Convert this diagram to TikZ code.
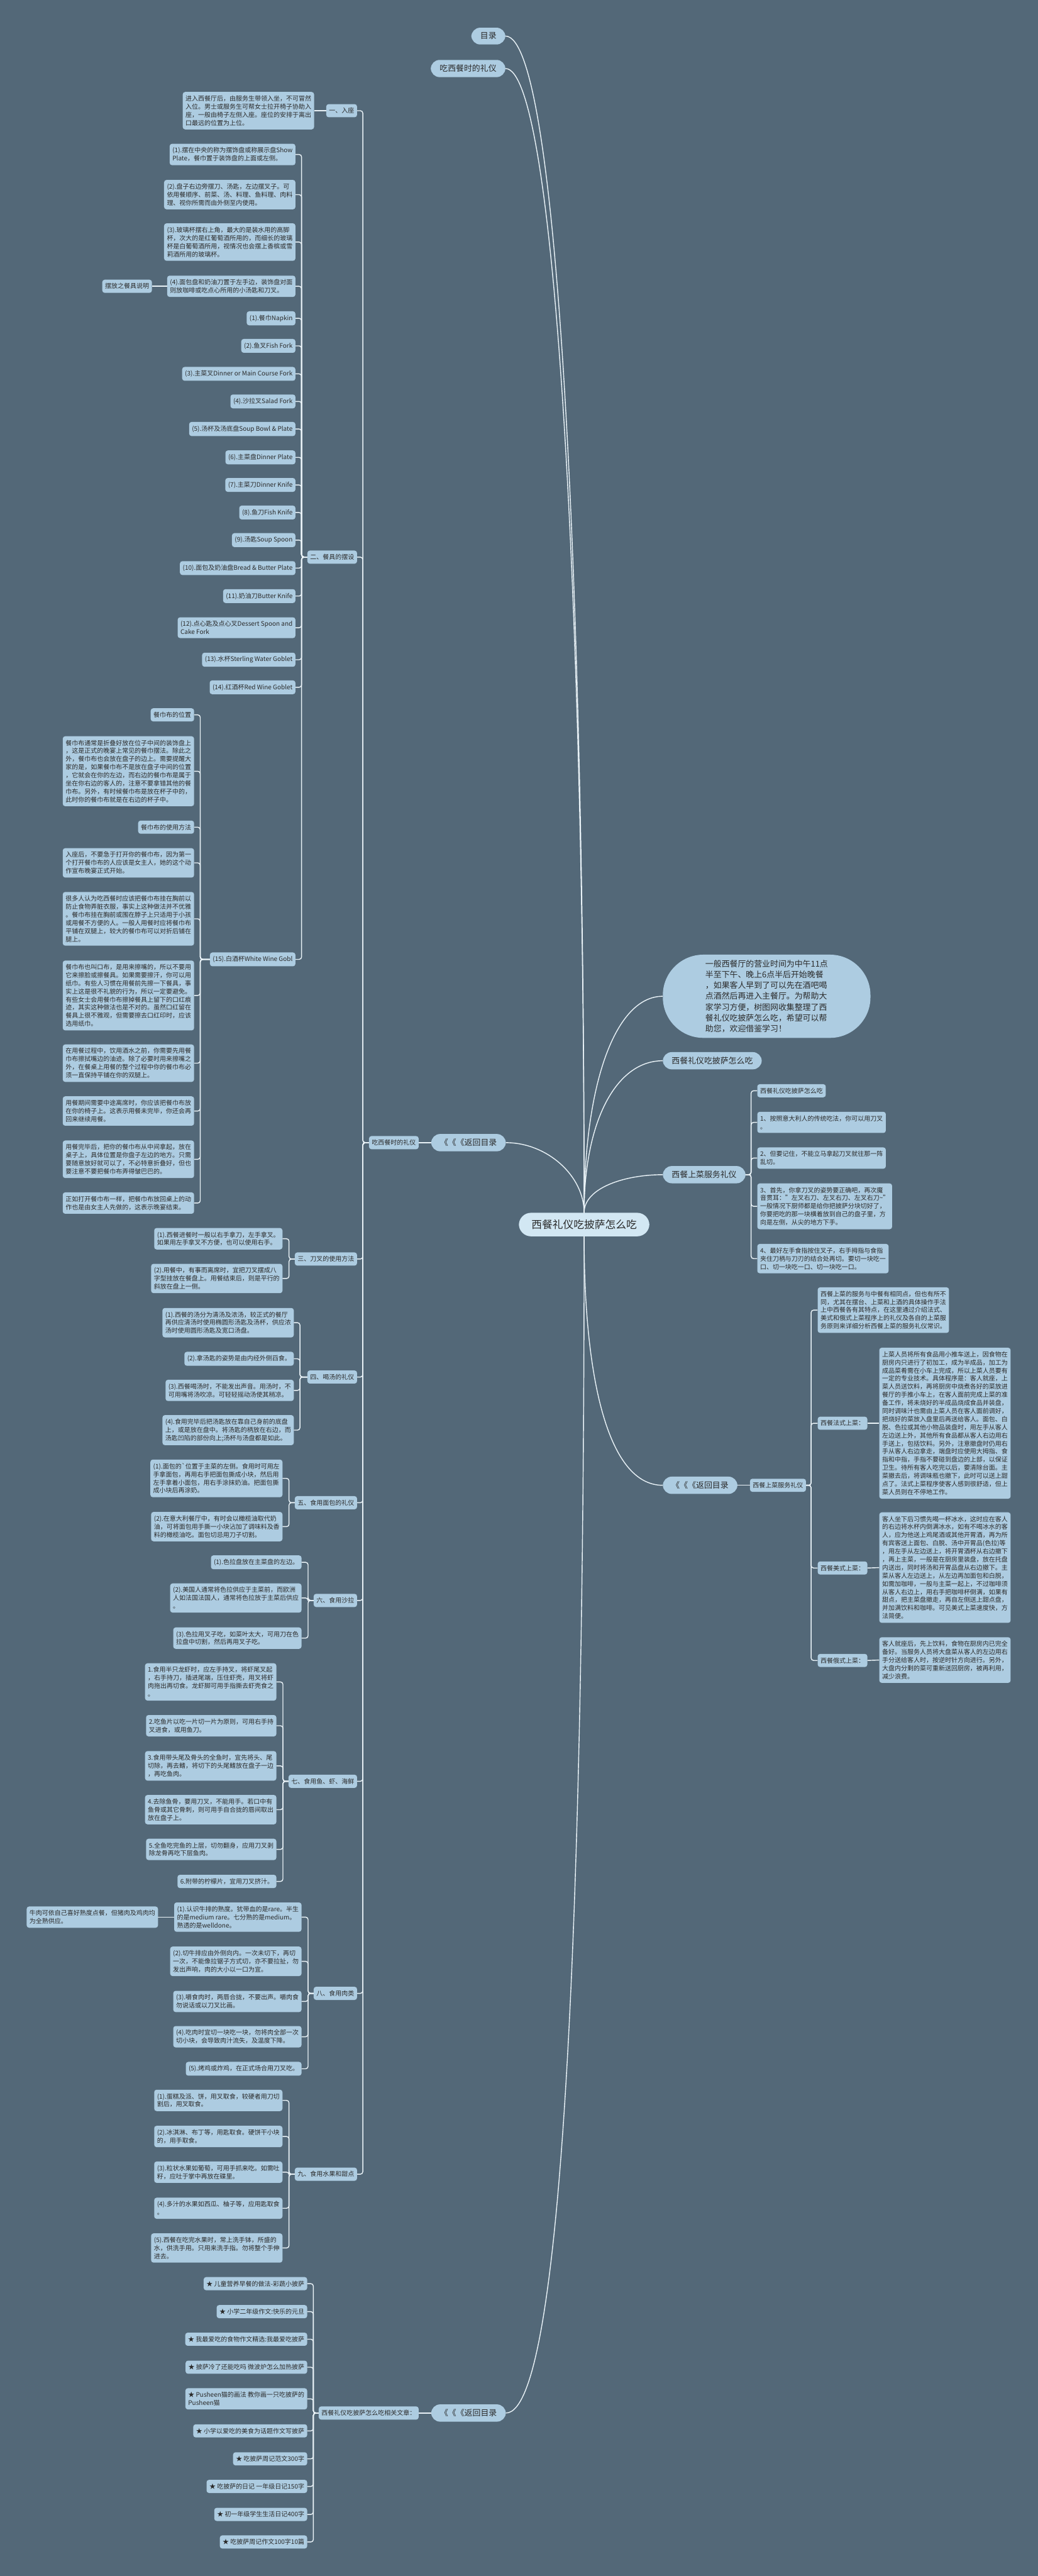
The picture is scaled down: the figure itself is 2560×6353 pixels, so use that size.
\documentclass[tikz,border=0pt]{standalone}
\usepackage{fontspec}
\setmainfont{Noto Sans CJK SC}
\usepackage{tikz}
\definecolor{bgc}{HTML}{536878}
\definecolor{boxc}{HTML}{ADCCE1}
\definecolor{rootc}{HTML}{D2E7F3}
\definecolor{linec}{HTML}{E9F2F7}
\definecolor{txtc}{HTML}{2A2A2A}

\begin{document}
\begin{tikzpicture}[x=1pt,y=-1pt,
  leaf/.style={fill=boxc,text=txtc,rounded corners=6pt,inner xsep=7pt,inner ysep=9pt,
               align=left,font=\fontsize{15.5}{20}\selectfont},
  pill/.style={fill=boxc,text=txtc,rounded corners=22pt,inner xsep=22pt,inner ysep=12pt,
               font=\fontsize{20}{26}\selectfont},
  link/.style={draw=linec,line width=2.2pt,rounded corners=6pt},
  curve/.style={draw=linec,line width=2.2pt}
]
  \fill[bgc] (0,0) rectangle (2560,6353);
  \useasboundingbox (0,0) rectangle (2560,6353);

  \node[fill=rootc,text=txtc,rounded corners=30pt,inner xsep=31pt,inner ysep=17pt,
        font=\fontsize{26}{32}\selectfont] (root) at (1441,3020) {西餐礼仪吃披萨怎么吃};

  \node[pill,anchor=east] (toc) at (1247,89) {目录};
  \node[pill,anchor=east] (etiq) at (1247,169) {吃西餐时的礼仪};
  \node[pill,anchor=east] (backa) at (1248,2818) {《《《返回目录};
  \node[pill,anchor=east] (backb) at (1248,5951) {《《《返回目录};
  \node[pill,anchor=west,align=left,inner xsep=105pt,inner ysep=13pt,rounded corners=100pt,
        font=\fontsize{20}{26.7}\selectfont] (intro) at (1635,2457)
    {一般西餐厅的营业时间为中午11点\\半至下午、晚上6点半后开始晚餐\\，如果客人早到了可以先在酒吧喝\\点酒然后再进入主餐厅。为帮助大\\家学习方便，树图网收集整理了西\\餐礼仪吃披萨怎么吃，希望可以帮\\助您，欢迎借鉴学习！};
  \node[pill,anchor=west] (pizza) at (1635,2616) {西餐礼仪吃披萨怎么吃};
  \node[pill,anchor=west] (serve) at (1635,2897) {西餐上菜服务礼仪};
  \node[pill,anchor=west] (backc) at (1635,3663) {《《《返回目录};

  \draw[curve] (toc.east) .. controls (1380,89) and (1441,1500) .. (root.north);
  \draw[curve] (etiq.east) .. controls (1370,169) and (1441,1500) .. (root.north);
  \draw[curve] (backa.east) .. controls (1350,2818) and (1441,2900) .. (root.north);
  \draw[curve] (backb.east) .. controls (1400,5951) and (1441,4500) .. (root.south);
  \draw[curve] (root.north) .. controls (1441,2670) and (1519,2457) .. (intro.west);
  \draw[curve] (root.north) .. controls (1441,2765) and (1520,2616) .. (pizza.west);
  \draw[curve] (root.north) .. controls (1441,2930) and (1540,2897) .. (serve.west);
  \draw[curve] (root.south) .. controls (1441,3400) and (1500,3663) .. (backc.west);

  \node[leaf,anchor=east] (etiqs) at (1033,2818) {吃西餐时的礼仪};
  \draw[link] (backa.west) -- (etiqs.east);

  \node[leaf,anchor=east] (s1) at (881,273) {一、入座};
  \node[leaf,anchor=east] (s2) at (881,1374) {二、餐具的摆设};
  \node[leaf,anchor=east] (s3) at (881,3105) {三、刀叉的使用方法};
  \node[leaf,anchor=east] (s4) at (881,3396) {四、喝汤的礼仪};
  \node[leaf,anchor=east] (s5) at (881,3706) {五、食用面包的礼仪};
  \node[leaf,anchor=east] (s6) at (881,3947) {六、食用沙拉};
  \node[leaf,anchor=east] (s7) at (881,4393) {七、食用鱼、虾、海鲜};
  \node[leaf,anchor=east] (s8) at (881,4916) {八、食用肉类};
  \node[leaf,anchor=east] (s9) at (881,5362) {九、食用水果和甜点};
  \foreach \s in {s1,s2,s3,s4,s5,s6,s7,s8,s9}
    \draw[link] (\s.east) -- ++(14,0) |- (etiqs.west);

  \node[leaf,anchor=east] (seat) at (775,273) {进入西餐厅后，由服务生带领入坐，不可冒然\\入位。男士或服务生可帮女士拉开椅子协助入\\座，一般由椅子左侧入座。座位的安排于离出\\口最远的位置为上位。};
  \draw[link] (seat.east) -- (s1.west);

  \node[leaf,anchor=east] (set1) at (729,381) {(1).摆在中央的称为摆饰盘或称展示盘Show\\Plate，餐巾置于装饰盘的上面或左侧。};
  \node[leaf,anchor=east] (set2) at (729,480) {(2).盘子右边旁摆刀、汤匙，左边摆叉子。可\\依用餐顺序、前菜、汤、料理、鱼料理、肉料\\理、视你所需而由外侧至内使用。};
  \node[leaf,anchor=east] (set3) at (729,597) {(3).玻璃杯摆右上角，最大的是装水用的高脚\\杯，次大的是红葡萄酒所用的，而细长的玻璃\\杯是白葡萄酒所用，视情况也会摆上香槟或雪\\莉酒所用的玻璃杯。};
  \node[leaf,anchor=east] (set4) at (729,706) {(4).面包盘和奶油刀置于左手边，装饰盘对面\\则放咖啡或吃点心所用的小汤匙和刀叉。};
  \node[leaf,anchor=east] (note) at (375,706) {摆放之餐具说明};
  \draw[link] (note.east) -- (set4.west);
  \node[leaf,anchor=east] (ware1) at (729,785) {(1).餐巾Napkin};
  \node[leaf,anchor=east] (ware2) at (729,853) {(2).鱼叉Fish Fork};
  \node[leaf,anchor=east] (ware3) at (729,922) {(3).主菜叉Dinner or Main Course Fork};
  \node[leaf,anchor=east] (ware4) at (729,990) {(4).沙拉叉Salad Fork};
  \node[leaf,anchor=east] (ware5) at (729,1058) {(5).汤杯及汤底盘Soup Bowl \& Plate};
  \node[leaf,anchor=east] (ware6) at (729,1128) {(6).主菜盘Dinner Plate};
  \node[leaf,anchor=east] (ware7) at (729,1196) {(7).主菜刀Dinner Knife};
  \node[leaf,anchor=east] (ware8) at (729,1264) {(8).鱼刀Fish Knife};
  \node[leaf,anchor=east] (ware9) at (729,1332) {(9).汤匙Soup Spoon};
  \node[leaf,anchor=east] (ware10) at (729,1401) {(10).面包及奶油盘Bread \& Butter Plate};
  \node[leaf,anchor=east] (ware11) at (729,1470) {(11).奶油刀Butter Knife};
  \node[leaf,anchor=east] (ware12) at (729,1548) {(12).点心匙及点心叉Dessert Spoon and\\Cake Fork};
  \node[leaf,anchor=east] (ware13) at (729,1627) {(13).水杯Sterling Water Goblet};
  \node[leaf,anchor=east] (ware14) at (729,1695) {(14).红酒杯Red Wine Goblet};
  \node[leaf,anchor=east] (ware15) at (729,2366) {(15).白酒杯White Wine Gobl};
  \foreach \c in {set1,set2,set3,set4,ware1,ware2,ware3,ware4,ware5,ware6,ware7,ware8,ware9,ware10,ware11,ware12,ware13,ware14,ware15}
    \draw[link] (\c.east) -- ++(15,0) |- (s2.west);

  \node[leaf,anchor=east] (nap1) at (479,1763) {餐巾布的位置};
  \node[leaf,anchor=east] (nap2) at (479,1902) {餐巾布通常是折叠好放在位子中间的装饰盘上\\，这是正式的晚宴上常见的餐巾摆法。除此之\\外，餐巾布也会放在盘子的边上。需要提醒大\\家的是，如果餐巾布不是放在盘子中间的位置\\，它就会在你的左边，而右边的餐巾布是属于\\坐在你右边的客人的，注意不要拿错其他的餐\\巾布。另外，有时候餐巾布是放在杯子中的，\\此时你的餐巾布就是在右边的杯子中。};
  \node[leaf,anchor=east] (nap3) at (479,2040) {餐巾布的使用方法};
  \node[leaf,anchor=east] (nap4) at (479,2128) {入座后，不要急于打开你的餐巾布，因为第一\\个打开餐巾布的人应该是女主人，她的这个动\\作宣布晚宴正式开始。};
  \node[leaf,anchor=east] (nap5) at (479,2266) {很多人认为吃西餐时应该把餐巾布挂在胸前以\\防止食物弄脏衣服，事实上这种做法并不优雅\\。餐巾布挂在胸前或围在脖子上只适用于小孩\\或用餐不方便的人。一般人用餐时应将餐巾布\\平铺在双腿上，较大的餐巾布可以对折后铺在\\腿上。};
  \node[leaf,anchor=east] (nap6) at (479,2455) {餐巾布也叫口布，是用来擦嘴的，所以不要用\\它来擦脸或擦餐具。如果需要擦汗，你可以用\\纸巾。有些人习惯在用餐前先擦一下餐具，事\\实上这是很不礼貌的行为，所以一定要避免。\\有些女士会用餐巾布擦掉餐具上留下的口红痕\\迹，其实这种做法也是不对的。虽然口红留在\\餐具上很不雅观，但需要擦去口红印时，应该\\选用纸巾。};
  \node[leaf,anchor=east] (nap7) at (479,2622) {在用餐过程中，饮用酒水之前，你需要先用餐\\巾布擦拭嘴边的油迹。除了必要时用来擦嘴之\\外，在餐桌上用餐的整个过程中你的餐巾布必\\须一直保持平铺在你的双腿上。};
  \node[leaf,anchor=east] (nap8) at (479,2740) {用餐期间需要中途离席时，你应该把餐巾布放\\在你的椅子上。这表示用餐未完毕，你还会再\\回来继续用餐。};
  \node[leaf,anchor=east] (nap9) at (479,2859) {用餐完毕后，把你的餐巾布从中间拿起，放在\\桌子上，具体位置是你盘子左边的地方。只需\\要随意放好就可以了，不必特意折叠好，但也\\要注意不要把餐巾布弄得皱巴巴的。};
  \node[leaf,anchor=east] (nap10) at (479,2967) {正如打开餐巾布一样，把餐巾布放回桌上的动\\作也是由女主人先做的，这表示晚宴结束。};
  \foreach \c in {nap1,nap2,nap3,nap4,nap5,nap6,nap7,nap8,nap9,nap10}
    \draw[link] (\c.east) -- ++(15,0) |- (ware15.west);

  \node[leaf,anchor=east] (knife1) at (697,3055) {(1).西餐进餐时一般以右手拿刀，左手拿叉。\\如果用左手拿叉不方便，也可以使用右手。};
  \node[leaf,anchor=east] (knife2) at (697,3153) {(2).用餐中，有事而离席时，宜把刀叉摆成八\\字型挂放在餐盘上。用餐结束后，则是平行的\\斜放在盘上一侧。};
  \foreach \c in {knife1,knife2}
    \draw[link] (\c.east) -- ++(16,0) |- (s3.west);

  \node[leaf,anchor=east] (soup1) at (725,3262) {(1).西餐的汤分为清汤及浓汤，较正式的餐厅\\再供应清汤时使用椭圆形汤匙及汤杯，供应浓\\汤时使用圆形汤匙及宽口汤盘。};
  \node[leaf,anchor=east] (soup2) at (725,3351) {(2).拿汤匙的姿势是由内经外侧舀食。};
  \node[leaf,anchor=east] (soup3) at (725,3429) {(3).西餐喝汤时，不能发出声音。用汤时，不\\可用嘴将汤吹凉。可轻轻摇动汤使其稍凉。};
  \node[leaf,anchor=east] (soup4) at (725,3527) {(4).食用完毕后把汤匙放在靠自己身前的底盘\\上，或是放在盘中。将汤匙的柄放在右边，而\\汤匙凹陷的部份向上;汤杯与汤盘都是如此。};
  \foreach \c in {soup1,soup2,soup3,soup4}
    \draw[link] (\c.east) -- ++(15,0) |- (s4.west);

  \node[leaf,anchor=east] (bread1) at (697,3646) {(1).面包的\textasciigrave 位置于主菜的左侧。食用时可用左\\手拿面包，再用右手把面包撕成小块，然后用\\左手拿着小面包，用右手涂抹奶油。把面包撕\\成小块后再涂奶。};
  \node[leaf,anchor=east] (bread2) at (697,3765) {(2).在意大利餐厅中，有时会以橄榄油取代奶\\油，可将面包用手撕一小块沾加了调味料及香\\料的橄榄油吃。面包切忌用刀子切割。};
  \foreach \c in {bread1,bread2}
    \draw[link] (\c.east) -- ++(16,0) |- (s5.west);

  \node[leaf,anchor=east] (salad1) at (744,3853) {(1).色拉盘放在主菜盘的左边。};
  \node[leaf,anchor=east] (salad2) at (744,3941) {(2).美国人通常将色拉供应于主菜前，而欧洲\\人如法国法国人，通常将色拉放于主菜后供应\\。};
  \node[leaf,anchor=east] (salad3) at (744,4040) {(3).色拉用叉子吃，如菜叶太大，可用刀在色\\拉盘中切割，然后再用叉子吃。};
  \foreach \c in {salad1,salad2,salad3}
    \draw[link] (\c.east) -- ++(16,0) |- (s6.west);

  \node[leaf,anchor=east] (fish1) at (682,4148) {1.食用半只龙虾时，应左手持叉，将虾尾叉起\\，右手持刀，插进尾端，压住虾壳，用叉将虾\\肉拖出再切食。龙虾脚可用手指撕去虾壳食之\\。};
  \node[leaf,anchor=east] (fish2) at (682,4256) {2.吃鱼片以吃一片切一片为原则，可用右手持\\叉进食，或用鱼刀。};
  \node[leaf,anchor=east] (fish3) at (682,4355) {3.食用带头尾及骨头的全鱼时，宜先将头、尾\\切除，再去鳍，将切下的头尾鳍放在盘子一边\\，再吃鱼肉。};
  \node[leaf,anchor=east] (fish4) at (682,4463) {4.去除鱼骨，要用刀叉，不能用手。若口中有\\鱼骨或其它骨刺，则可用手自合拢的唇间取出\\放在盘子上。};
  \node[leaf,anchor=east] (fish5) at (682,4561) {5.全鱼吃完鱼的上层，切勿翻身，应用刀叉剥\\除龙骨再吃下层鱼肉。};
  \node[leaf,anchor=east] (fish6) at (682,4640) {6.附带的柠檬片，宜用刀叉挤汁。};
  \foreach \c in {fish1,fish2,fish3,fish4,fish5,fish6}
    \draw[link] (\c.east) -- ++(16,0) |- (s7.west);

  \node[leaf,anchor=east] (meat1) at (744,4728) {(1).认识牛排的熟度。犹带血的是rare。半生\\的是medium rare。七分熟的是medium。\\熟透的是welldone。};
  \node[leaf,anchor=east] (beef) at (390,4728) {牛肉可依自己喜好熟度点餐，但猪肉及鸡肉均\\为全熟供应。};
  \draw[link] (beef.east) -- (meat1.west);
  \node[leaf,anchor=east] (meat2) at (744,4837) {(2).切牛排应由外侧向内。一次未切下，再切\\一次，不能像拉锯子方式切，亦不要拉扯，勿\\发出声响，肉的大小以一口为宜。};
  \node[leaf,anchor=east] (meat3) at (744,4936) {(3).嚼食肉时，两唇合拢，不要出声。嚼肉食\\勿说话或以刀叉比画。};
  \node[leaf,anchor=east] (meat4) at (744,5023) {(4).吃肉时宜切一块吃一块，勿将肉全部一次\\切小块，会导致肉汁流失，及温度下降。};
  \node[leaf,anchor=east] (meat5) at (744,5102) {(5).烤鸡或炸鸡，在正式场合用刀叉吃。};
  \foreach \c in {meat1,meat2,meat3,meat4,meat5}
    \draw[link] (\c.east) -- ++(16,0) |- (s8.west);

  \node[leaf,anchor=east] (fruit1) at (697,5180) {(1).蛋糕及派、饼，用叉取食，较硬者用刀切\\割后，用叉取食。};
  \node[leaf,anchor=east] (fruit2) at (697,5269) {(2).冰淇淋、布丁等，用匙取食。硬饼干小块\\的，用手取食。};
  \node[leaf,anchor=east] (fruit3) at (697,5357) {(3).粒状水果如葡萄，可用手抓来吃。如需吐\\籽，应吐于掌中再放在碟里。};
  \node[leaf,anchor=east] (fruit4) at (697,5446) {(4).多汁的水果如西瓜、柚子等，应用匙取食\\。};
  \node[leaf,anchor=east] (fruit5) at (697,5544) {(5).西餐在吃完水果时，常上洗手钵，所盛的\\水，供洗手用。只用来洗手指。勿将整个手伸\\进去。};
  \foreach \c in {fruit1,fruit2,fruit3,fruit4,fruit5}
    \draw[link] (\c.east) -- ++(16,0) |- (s9.west);

  \node[leaf,anchor=east] (rel) at (1033,5951) {西餐礼仪吃披萨怎么吃相关文章：};
  \draw[link] (backb.west) -- (rel.east);
  \node[leaf,anchor=east] (art1) at (758,5632) {★ 儿童营养早餐的做法-彩蔬小披萨};
  \node[leaf,anchor=east] (art2) at (758,5701) {★ 小学二年级作文:快乐的元旦};
  \node[leaf,anchor=east] (art3) at (758,5769) {★ 我最爱吃的食物作文精选:我最爱吃披萨};
  \node[leaf,anchor=east] (art4) at (758,5838) {★ 披萨冷了还能吃吗 微波炉怎么加热披萨};
  \node[leaf,anchor=east] (art5) at (758,5916) {★ Pusheen猫的画法 教你画一只吃披萨的\\Pusheen猫};
  \node[leaf,anchor=east] (art6) at (758,5995) {★ 小学以爱吃的美食为话题作文写披萨};
  \node[leaf,anchor=east] (art7) at (758,6064) {★ 吃披萨周记范文300字};
  \node[leaf,anchor=east] (art8) at (758,6132) {★ 吃披萨的日记 一年级日记150字};
  \node[leaf,anchor=east] (art9) at (758,6201) {★ 初一年级学生生活日记400字};
  \node[leaf,anchor=east] (art10) at (758,6269) {★ 吃披萨周记作文100字10篇};
  \foreach \c in {art1,art2,art3,art4,art5,art6,art7,art8,art9,art10}
    \draw[link] (\c.east) -- ++(15,0) |- (rel.west);

  \node[leaf,anchor=west] (pz1) at (1868,2690) {西餐礼仪吃披萨怎么吃};
  \node[leaf,anchor=west] (pz2) at (1868,2768) {1、按照意大利人的传统吃法，你可以用刀叉\\。};
  \node[leaf,anchor=west] (pz3) at (1868,2856) {2、但要记住，不能立马拿起刀叉就往那一阵\\乱切。};
  \node[leaf,anchor=west] (pz4) at (1868,2975) {3、首先，你拿刀叉的姿势要正确吧，再次魔\\音贯耳："左叉右刀、左叉右刀、左叉右刀\textasciitilde"\\一般情况下厨师都是给你把披萨分块切好了，\\你要把吃的那一块横着放到自己的盘子里，方\\向是左侧，从尖的地方下手。};
  \node[leaf,anchor=west] (pz5) at (1868,3104) {4、最好左手食指按住叉子，右手拇指与食指\\夹住刀柄与刀刃的结合处再切。要切一块吃一\\口、切一块吃一口、切一块吃一口。};
  \foreach \c in {pz1,pz2,pz3,pz4,pz5}
    \draw[link] (\c.west) -- ++(-15,0) |- (serve.east);

  \node[leaf,anchor=west] (servs) at (1850,3663) {西餐上菜服务礼仪};
  \draw[link] (backc.east) -- (servs.west);
  \node[leaf,anchor=west] (sv0) at (2017,3231) {西餐上菜的服务与中餐有相同点，但也有所不\\同，尤其在摆台、上菜和上酒的具体操作手法\\上中西餐各有其特点，在这里通过介绍法式、\\美式和俄式上菜程序上的礼仪及各自的上菜服\\务原则来详细分析西餐上菜的服务礼仪常识。};
  \node[leaf,anchor=west] (fr) at (2017,3510) {西餐法式上菜：};
  \node[leaf,anchor=west] (us) at (2017,3867) {西餐美式上菜：};
  \node[leaf,anchor=west] (ru) at (2017,4095) {西餐俄式上菜：};
  \foreach \c in {sv0,fr,us,ru}
    \draw[link] (\c.west) -- ++(-16,0) |- (servs.east);

  \node[leaf,anchor=west] (frt) at (2169,3510) {上菜人员将所有食品用小推车送上，因食物在\\厨房内只进行了初加工，成为半成品，加工为\\成品菜肴需在小车上完成，所以上菜人员要有\\一定的专业技术。具体程序是：客人就座，上\\菜人员送饮料，再将厨房中烧煮各好的菜放进\\餐厅的手推小车上，在客人面前完成上菜的准\\备工作，将未烧好的半成品烧成食品并装盘，\\同时调味汁也需由上菜人员在客人面前调好，\\把烧好的菜放入盘里后再送给客人。面包、白\\脱、色拉或其他小物品装盘时，用左手从客人\\左边送上外，其他所有食品都从客人右边用右\\手送上，包括饮料。另外，注意撤盘时仍用右\\手从客人右边拿走，端盘时应使用大拇指、食\\指和中指，手指不要碰到盘边的上部，以保证\\卫生。待所有客人吃完以后，要清除台面。主\\菜撤去后，将调味瓶也撤下，此时可以送上甜\\点了。法式上菜程序使客人感到很舒适，但上\\菜人员则在不停地工作。};
  \node[leaf,anchor=west] (ust) at (2169,3866) {客人坐下后习惯先喝一杯冰水，这时应在客人\\的右边将水杯内倒满冰水，如有不喝冰水的客\\人，应为他送上鸡尾酒或其他开胃酒，再为所\\有宾客送上面包、白脱、汤中开胃品(色拉)等\\，用左手从左边送上，将开胃酒杯从右边撤下\\，再上主菜，一般是在厨房里装盘，放在托盘\\内送出，同时将汤和开胃品盘从右边撤下。主\\菜从客人左边送上，从左边再加面包和白脱，\\如需加咖啡，一般与主菜一起上，不过咖啡须\\从客人右边上，用右手把咖啡杯倒满，如果有\\甜点，把主菜盘撤走，再自左侧送上甜点盘，\\并加满饮料和咖啡。可见美式上菜速度快，方\\法简便。};
  \node[leaf,anchor=west] (rut) at (2169,4094) {客人就座后，先上饮料，食物在厨房内已完全\\备好。当服务人员将大盘菜从客人的左边用右\\手分送给客人时，按逆时针方向进行。另外，\\大盘内分剩的菜可重新送回厨房，被再利用，\\减少浪费。};
  \draw[link] (fr.east) -- (frt.west);
  \draw[link] (us.east) -- (ust.west);
  \draw[link] (ru.east) -- (rut.west);
\end{tikzpicture}
\end{document}
